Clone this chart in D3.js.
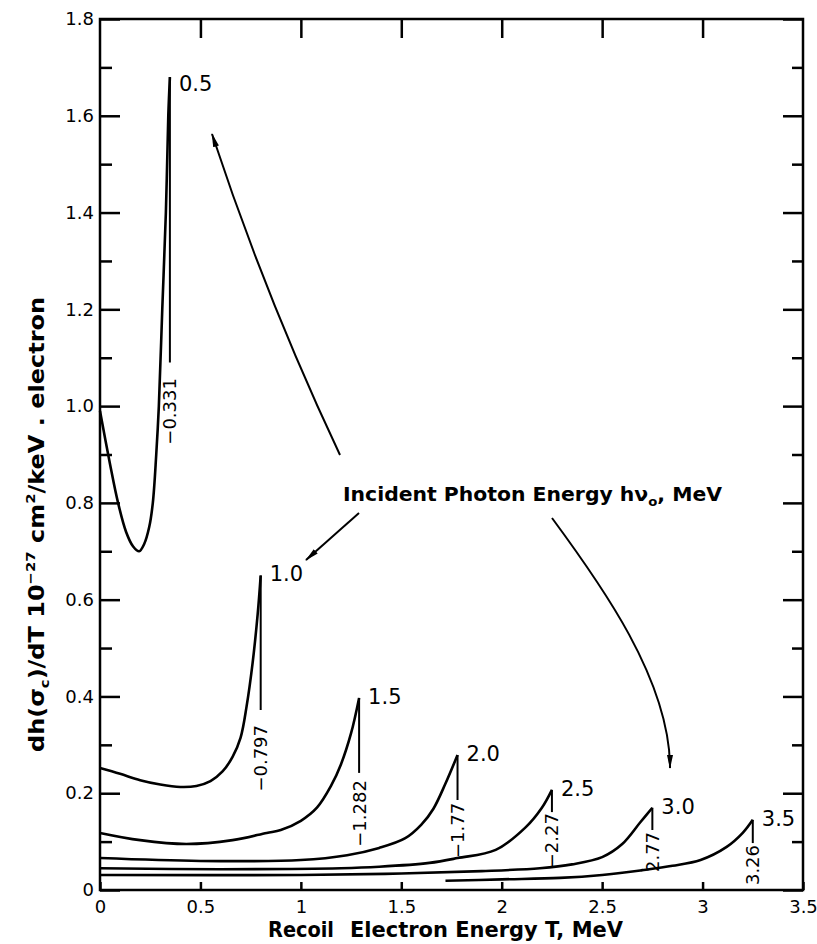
<!DOCTYPE html>
<html>
<head>
<meta charset="utf-8">
<script src="https://cdn.jsdelivr.net/npm/d3@7"></script>
<style>
  body { margin: 0; background: #fff; }
  text { fill: #000; font-family: "DejaVu Sans", sans-serif; }
</style>
</head>
<body>
<div id="chart"></div>
<script>
// axis ticks
const xTicks = [0, 0.5, 1, 1.5, 2, 2.5, 3, 3.5];
const xTickLabels = ["0", "0.5", "1", "1.5", "2", "2.5", "3", "3.5"];
const yMajor = [0, 0.2, 0.4, 0.6, 0.8, 1.0, 1.2, 1.4, 1.6, 1.8];
const yTickLabels = ["0", "0.2", "0.4", "0.6", "0.8", "1.0", "1.2", "1.4", "1.6", "1.8"];
const yMinor = [0.1, 0.3, 0.5, 0.7, 0.9, 1.1, 1.3, 1.5, 1.7];

// incident photon energies and Compton edges (MeV)
const energyLabels = ["0.5", "1.0", "1.5", "2.0", "2.5", "3.0", "3.5"];
const edgeLabels = ["\u22120.331", "\u22120.797", "\u22121.282", "\u22121.77", "\u22122.27", "2.77", "3.26"];
// where the drop line under each peak stops, and where its label starts
const dropEnd = [1.09, 0.372, 0.242, 0.186, 0.161, 0.124, 0.097];
const edgeLabelTop = [1.058, 0.341, 0.227, 0.180, 0.159, 0.120, 0.093];

// curves: T (MeV) and dh(sigma)/dT
const t05 = [0, 0.05, 0.09, 0.13, 0.165, 0.195, 0.22, 0.245, 0.263, 0.28, 0.293, 0.31, 0.328, 0.34, 0.348];
const v05 = [0.99, 0.88, 0.80, 0.74, 0.71, 0.70, 0.715, 0.75, 0.80, 0.90, 1.00, 1.20, 1.40, 1.60, 1.68];
const t10 = [0, 0.1, 0.2, 0.3, 0.4, 0.48, 0.55, 0.61, 0.66, 0.70, 0.73, 0.76, 0.785, 0.80];
const v10 = [0.252, 0.24, 0.227, 0.218, 0.213, 0.215, 0.225, 0.245, 0.275, 0.315, 0.38, 0.47, 0.57, 0.65];
const t15 = [0, 0.2, 0.43, 0.66, 0.83, 0.9, 1.0, 1.08, 1.15, 1.2, 1.25, 1.29];
const v15 = [0.118, 0.103, 0.095, 0.103, 0.118, 0.124, 0.143, 0.170, 0.215, 0.26, 0.324, 0.397];
const t20 = [0, 0.5, 1.0, 1.23, 1.39, 1.52, 1.60, 1.66, 1.72, 1.78];
const v20 = [0.066, 0.060, 0.062, 0.072, 0.087, 0.107, 0.135, 0.168, 0.22, 0.279];
const t25 = [0, 0.6, 1.2, 1.39, 1.64, 1.78, 1.97, 2.12, 2.2, 2.25];
const v25 = [0.045, 0.043, 0.045, 0.048, 0.056, 0.066, 0.083, 0.13, 0.17, 0.207];
const t30 = [0, 1.0, 1.5, 1.9, 2.19, 2.35, 2.5, 2.6, 2.69, 2.75];
const v30 = [0.031, 0.031, 0.034, 0.039, 0.045, 0.053, 0.068, 0.095, 0.140, 0.170];
const t35 = [1.72, 2.0, 2.29, 2.5, 2.70, 2.85, 2.99, 3.12, 3.2, 3.25];
const v35 = [0.019, 0.022, 0.025, 0.031, 0.041, 0.05, 0.062, 0.089, 0.118, 0.145];

const curveT = [t05, t10, t15, t20, t25, t30, t35];
const curveV = [v05, v10, v15, v20, v25, v30, v35];

const width = 817, height = 944;
const margin = {top: 19, right: 14, bottom: 54, left: 100};

const svg = d3.select("#chart")
    .append("svg")
        .attr("width", width)
        .attr("height", height);

const x = d3.scaleLinear().domain([0, 3.5]).range([margin.left, width - margin.right]);
const y = d3.scaleLinear().domain([0, 1.8]).range([height - margin.bottom, margin.top]);

// arrow head marker
svg.append("defs").append("marker")
    .attr("id", "head")
    .attr("viewBox", "0 0 14 8")
    .attr("refX", 13).attr("refY", 4)
    .attr("markerWidth", 14).attr("markerHeight", 8)
    .attr("markerUnits", "userSpaceOnUse")
    .attr("orient", "auto")
  .append("path")
    .attr("d", "M0,1 L14,4 L0,7 Z")
    .attr("fill", "#000");

// axes (ticks point inward)
function styleAxis(g) {
    g.select(".domain").remove();
    g.selectAll(".tick line").attr("stroke", "#000").attr("stroke-width", 2.5);
    g.selectAll(".tick text").style("font-size", "18px").attr("fill", "#000");
}

svg.append("g")
    .attr("transform", `translate(${margin.left},0)`)
    .call(d3.axisLeft(y).tickValues(yMajor).tickSize(-20).tickPadding(6)
        .tickFormat((d, i) => yTickLabels[i]))
    .call(styleAxis);
svg.append("g")
    .attr("transform", `translate(${margin.left},0)`)
    .call(d3.axisLeft(y).tickValues(yMinor).tickSize(-12).tickFormat(""))
    .call(styleAxis);
svg.append("g")
    .attr("transform", `translate(${width - margin.right},0)`)
    .call(d3.axisRight(y).tickValues(yMajor).tickSize(-20).tickFormat(""))
    .call(styleAxis);
svg.append("g")
    .attr("transform", `translate(${width - margin.right},0)`)
    .call(d3.axisRight(y).tickValues(yMinor).tickSize(-11).tickFormat(""))
    .call(styleAxis);
svg.append("g")
    .attr("transform", `translate(0,${height - margin.bottom})`)
    .call(d3.axisBottom(x).tickValues(xTicks).tickSize(-8).tickPadding(10)
        .tickFormat((d, i) => xTickLabels[i]))
    .call(styleAxis);
svg.append("g")
    .attr("transform", `translate(0,${margin.top})`)
    .call(d3.axisTop(x).tickValues(xTicks.slice(1, -1)).tickSize(-19).tickFormat(""))
    .call(styleAxis);

// frame
svg.append("rect")
    .attr("x", x(0)).attr("y", y(1.8))
    .attr("width", x(3.5) - x(0)).attr("height", y(0) - y(1.8))
    .attr("fill", "none").attr("stroke", "#000").attr("stroke-width", 2.5);

// curves
const line = d3.line()
    .x(d => x(d[0]))
    .y(d => y(d[1]))
    .curve(d3.curveCatmullRom.alpha(0.5));

curveT.forEach((ts, i) => {
    const pts = ts.map((t, j) => [t, curveV[i][j]]);
    const peak = pts[pts.length - 1];

    svg.append("path")
        .attr("d", line(pts))
        .attr("fill", "none")
        .attr("stroke", "#000")
        .attr("stroke-width", 2.6)
        .attr("stroke-linejoin", "round");

    // drop line at the Compton edge
    svg.append("line")
        .attr("x1", x(peak[0])).attr("x2", x(peak[0]))
        .attr("y1", y(peak[1])).attr("y2", y(dropEnd[i]))
        .attr("stroke", "#000").attr("stroke-width", 2);

    svg.append("text")
        .attr("transform", `translate(${x(peak[0])},${y(edgeLabelTop[i])}) rotate(-90)`)
        .attr("text-anchor", "end")
        .attr("dy", "0.36em")
        .style("font-size", "18px")
        .text(edgeLabels[i]);

    svg.append("text")
        .attr("x", x(peak[0]) + 9)
        .attr("y", y(peak[1]) + (i === 0 ? 14 : 6))
        .style("font-size", "21px")
        .text(energyLabels[i]);
});

// annotation and arrows
const note = svg.append("text")
    .attr("x", 343).attr("y", 501)
    .attr("textLength", 379)
    .attr("lengthAdjust", "spacingAndGlyphs")
    .style("font-size", "20px")
    .style("font-weight", "bold");
note.append("tspan").text("Incident Photon Energy h\u03bd");
note.append("tspan").attr("dy", 5).style("font-size", "13px").text("o");
note.append("tspan").attr("dy", -5).text(", MeV");

const arrows = [
    "M340,455 Q266,298 212,134",
    "M359,513 L306,560",
    "M552,518 C600,583 670,680 670,768"
];
svg.selectAll(".arrow")
    .data(arrows)
    .join("path")
        .attr("class", "arrow")
        .attr("d", d => d)
        .attr("fill", "none")
        .attr("stroke", "#000")
        .attr("stroke-width", 2)
        .attr("marker-end", "url(#head)");

// axis titles
svg.append("text")
    .attr("x", 268).attr("y", 937)
    .attr("textLength", 66)
    .attr("lengthAdjust", "spacingAndGlyphs")
    .style("font-size", "21px").style("font-weight", "bold")
    .text("Recoil");
svg.append("text")
    .attr("x", 350).attr("y", 937)
    .attr("textLength", 273)
    .attr("lengthAdjust", "spacingAndGlyphs")
    .style("font-size", "21px").style("font-weight", "bold")
    .text("Electron Energy T, MeV");

const yTitle = svg.append("text")
    .attr("transform", "translate(44,752) rotate(-90)")
    .attr("textLength", 455)
    .attr("lengthAdjust", "spacingAndGlyphs")
    .style("font-size", "21px").style("font-weight", "bold");
yTitle.append("tspan").text("dh(\u03c3");
yTitle.append("tspan").attr("dy", 5).style("font-size", "13px").text("c");
yTitle.append("tspan").attr("dy", -5).text(")/dT 10");
yTitle.append("tspan").attr("dy", -9).style("font-size", "13px").text("\u221227");
yTitle.append("tspan").attr("dy", 9).text(" cm");
yTitle.append("tspan").attr("dy", -9).style("font-size", "13px").text("2");
yTitle.append("tspan").attr("dy", 9).text("/keV . electron");
</script>
</body>
</html>
